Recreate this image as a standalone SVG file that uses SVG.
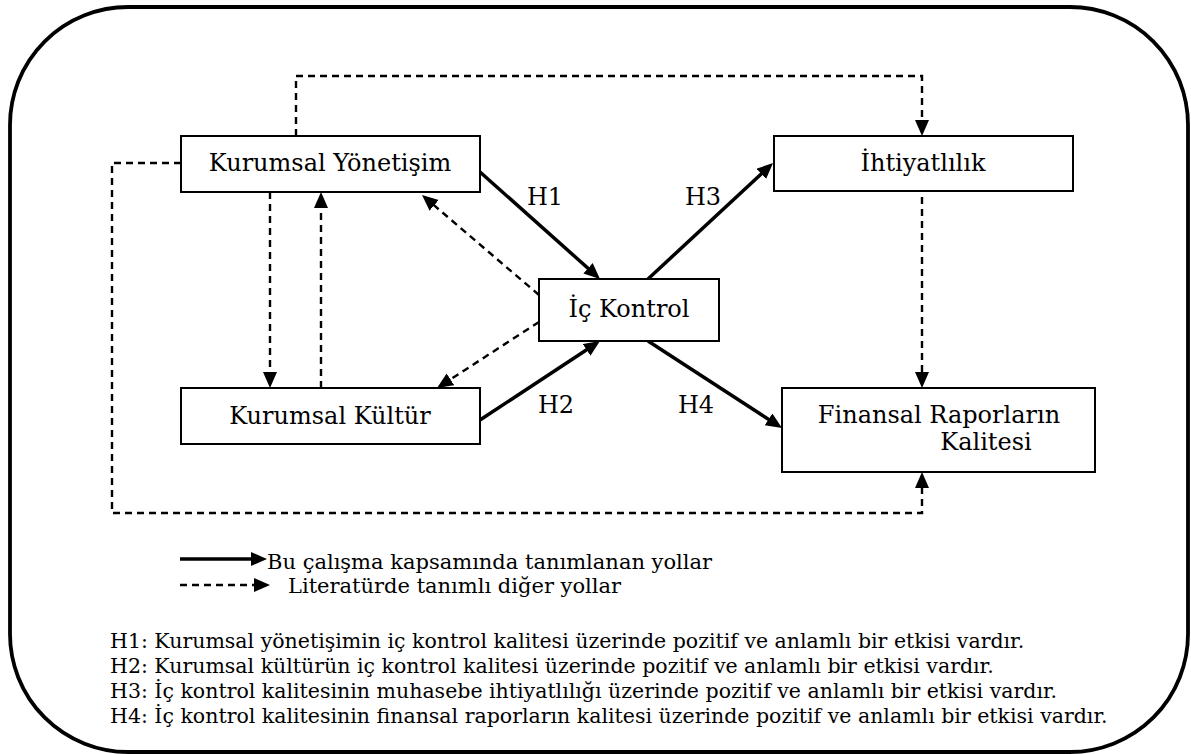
<svg xmlns="http://www.w3.org/2000/svg" width="1191" height="754" viewBox="0 0 1191 754">
<style>
  .frame{fill:#fff;stroke:#000;stroke-width:3.8}
  .box{fill:#fff;stroke:#000;stroke-width:2}
  .lbl{font-family:"DejaVu Serif","Liberation Serif",serif;font-size:24px;fill:#000}
  .h{font-family:"DejaVu Serif","Liberation Serif",serif;font-size:24px;fill:#000}
  .leg{font-family:"DejaVu Serif","Liberation Serif",serif;font-size:21px;fill:#000}
  .hyp{font-family:"DejaVu Serif","Liberation Serif",serif;font-size:20.5px;fill:#000}
  .solid{fill:none;stroke:#000;stroke-width:3.5;marker-end:url(#arS)}
  .dash{fill:none;stroke:#000;stroke-width:2.4;stroke-dasharray:7 5;marker-end:url(#arD)}
</style>
<defs>
  <marker id="arS" markerUnits="userSpaceOnUse" markerWidth="18" markerHeight="16" refX="6" refY="7" orient="auto">
    <path d="M0,0 L16,7 L0,14 z" fill="#000"/>
  </marker>
  <marker id="arD" markerUnits="userSpaceOnUse" markerWidth="18" markerHeight="16" refX="6" refY="7" orient="auto">
    <path d="M0,0 L16,7 L0,14 z" fill="#000"/>
  </marker>
</defs>
<rect class="frame" x="10" y="7" width="1178" height="745" rx="118" ry="118"/>

<g id="connectors">
  <path class="dash" d="M296,136 V76 H922 V126"/>
  <path class="dash" d="M181,163 H112 V513 H922 V482"/>
  <path class="dash" d="M270,192 V378"/>
  <path class="dash" d="M321,388 V202"/>
  <path class="dash" d="M922,197 V378"/>
  <path class="dash" d="M539,295 L429.6,201.5"/>
  <path class="dash" d="M539,322 L445.4,382.6"/>
  <path class="solid" d="M480,172 L592.5,272.3"/>
  <path class="solid" d="M480,420 L591.6,346.5"/>
  <path class="solid" d="M648,279 L765.7,169.8"/>
  <path class="solid" d="M648,341 L773.6,422.6"/>
</g>

<g id="node-ky">
  <rect class="box" x="181" y="136" width="299" height="56"/>
  <text class="lbl" x="330" y="171" text-anchor="middle">Kurumsal Yönetişim</text>
</g>
<g id="node-kk">
  <rect class="box" x="181" y="388" width="299" height="56"/>
  <text class="lbl" x="330" y="424" text-anchor="middle">Kurumsal Kültür</text>
</g>
<g id="node-ik">
  <rect class="box" x="539" y="279" width="180" height="62"/>
  <text class="lbl" x="629" y="317" text-anchor="middle">İç Kontrol</text>
</g>
<g id="node-iht">
  <rect class="box" x="774" y="136" width="299" height="55"/>
  <text class="lbl" x="923" y="171" text-anchor="middle">İhtiyatlılık</text>
</g>
<g id="node-frk">
  <rect class="box" x="782" y="388" width="313" height="84"/>
  <text class="lbl" x="939" y="423" text-anchor="middle">Finansal Raporların</text>
  <text class="lbl" x="986" y="450" text-anchor="middle">Kalitesi</text>
</g>

<g id="edge-labels">
  <text class="h" x="545" y="205" text-anchor="middle">H1</text>
  <text class="h" x="556" y="413" text-anchor="middle">H2</text>
  <text class="h" x="703" y="205" text-anchor="middle">H3</text>
  <text class="h" x="696" y="413" text-anchor="middle">H4</text>
</g>

<g id="legend">
  <path class="solid" d="M180,559 H257"/>
  <text class="leg" x="267" y="569">Bu çalışma kapsamında tanımlanan yollar</text>
  <path class="dash" d="M180,585 H260"/>
  <text class="leg" x="288" y="593">Literatürde tanımlı diğer yollar</text>
</g>

<g id="hypotheses">
  <text class="hyp" x="110" y="648">H1: Kurumsal yönetişimin iç kontrol kalitesi üzerinde pozitif ve anlamlı bir etkisi vardır.</text>
  <text class="hyp" x="110" y="673">H2: Kurumsal kültürün iç kontrol kalitesi üzerinde pozitif ve anlamlı bir etkisi vardır.</text>
  <text class="hyp" x="110" y="698">H3: İç kontrol kalitesinin muhasebe ihtiyatlılığı üzerinde pozitif ve anlamlı bir etkisi vardır.</text>
  <text class="hyp" x="110" y="723">H4: İç kontrol kalitesinin finansal raporların kalitesi üzerinde pozitif ve anlamlı bir etkisi vardır.</text>
</g>
</svg>
